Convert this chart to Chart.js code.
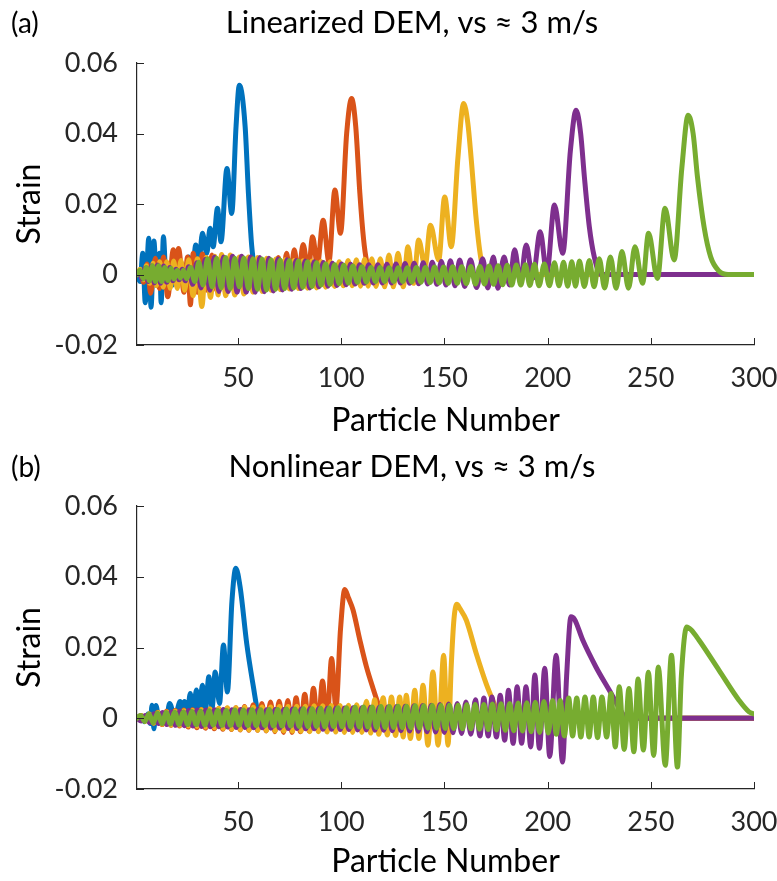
<!DOCTYPE html>
<html>
<head>
<meta charset="utf-8">
<script src="https://cdn.jsdelivr.net/npm/chart.js@4.4.1/dist/chart.umd.min.js"></script>
<style>
  body { margin: 0; background: #fff; }
  canvas { position: absolute; left: 0; }
</style>
</head>
<body>
<canvas id="chartA" width="777" height="440" style="top:0"></canvas>
<canvas id="chartB" width="777" height="441" style="top:440px"></canvas>
<script>
// tick labels
const xTicks = [50, 100, 150, 200, 250, 300];
const yTicks = [-0.02, 0, 0.02, 0.04, 0.06];

// (a) linearized DEM : [particle number, strain]
const blueA = [[1,0],[2.5,-0.002],[3.8,0.006],[5,-0.008],[6.7,0.0103],[7.8,-0.0093],[9.2,0.0095],[10.5,-0.003],[11.9,0.006],[12.7,-0.008],[13.8,0.0107],[15.3,-0.004],[16.8,0.003],[18.3,-0.003],[19.8,0.004],[21.3,-0.002],[22.9,0.003],[24.4,-0.001],[26,0.005],[27.6,-0.001],[29.5,0.0084],[31.1,0.004],[32.7,0.0117],[34.8,0.006],[36.4,0.0131],[37.9,0.0079],[40,0.0188],[41.7,0.0093],[44.6,0.0301],[46.9,0.0173],[49,0.042],[50.6,0.0537],[53.4,0.042],[55,0.023],[56.6,0.008],[58,0.002],[60,0],[300,0]];
const orangeA = [[1,0],[2.6,0.0013],[4.2,-0.0022],[5.9,0.003],[7.6,-0.0053],[9.9,0.0046],[11.9,-0.004],[13.8,0.005],[15.9,-0.0063],[18.6,0.007],[20,-0.002],[21.1,0.0074],[23.8,-0.005],[25.5,0.005],[26.9,-0.0086],[28.2,0.006],[30.3,-0.005],[32.7,0.0058],[35,-0.0045],[37.3,0.0055],[39.6,-0.0045],[41.9,0.005],[44.2,-0.004],[46.5,0.0048],[48.8,-0.004],[51.1,0.0045],[53.4,-0.0038],[55.7,0.0044],[58,-0.0035],[60.3,0.0044],[62.6,-0.0033],[64.9,0.0045],[67.2,-0.003],[69.5,0.0048],[71.5,-0.0025],[73.5,0.006],[75.3,-0.0015],[77.2,0.007],[79.2,-0.0005],[81.5,0.0085],[84,0.001],[86.1,0.0107],[88.4,0.0027],[91.2,0.0154],[94,0.0036],[96.9,0.024],[99.6,0.0117],[102.6,0.04],[105,0.0499],[107,0.042],[109,0.023],[110.8,0.01],[112.2,0.004],[114,0.001],[116,0],[300,0]];
const yellowA = [[1,0],[2.5,0.0015],[4,-0.0015],[5.6,0.0025],[7.2,-0.0025],[8.8,0.0032],[10.4,-0.0032],[12,0.0036],[13.7,-0.0036],[15.4,0.0036],[17.1,-0.0039],[18.8,0.0038],[20.5,-0.004],[22.3,0.004],[24.1,-0.0045],[26,0.0042],[28.2,-0.006],[30.3,0.0045],[32.4,-0.0091],[34.6,0.0048],[36.6,-0.0065],[38.7,0.0052],[40.3,-0.0058],[42,0.0057],[44,-0.006],[46.2,0.0055],[48.4,-0.0058],[50.6,0.005],[52.8,-0.0055],[55,0.005],[57.2,-0.005],[59.4,0.0048],[61.6,-0.0048],[63.8,0.0046],[66,-0.0045],[68.2,0.0044],[70.4,-0.0043],[72.6,0.0042],[74.8,-0.0041],[77,0.004],[79.2,-0.004],[81.4,0.0039],[83.6,-0.0039],[85.8,0.0038],[88,-0.0038],[90.2,0.0037],[92.4,-0.0036],[94.6,0.0036],[96.8,-0.0034],[99,0.0036],[101,-0.0032],[103.3,0.004],[105.3,-0.0032],[107.3,0.0042],[109.3,-0.0033],[111.3,0.0043],[113,-0.0033],[114.8,0.0045],[116.8,-0.0034],[118.9,0.0045],[121,-0.0035],[123.1,0.0055],[125.2,-0.0035],[127.5,0.006],[130,-0.0035],[132.3,0.0079],[135,-0.0025],[137.5,0.0098],[140.6,0.0022],[143.2,0.014],[147.2,0.0041],[150.1,0.022],[153.3,0.0079],[156.5,0.033],[159.3,0.0485],[161.3,0.043],[163,0.0325],[165.4,0.0155],[167.8,0.004],[170.5,0],[300,0]];
const purpleA = [[1,0],[2,0.0008],[3.4,-0.0013],[4.9,0.0018],[6.4,-0.002],[7.9,0.0024],[9.4,-0.0024],[10.9,0.0027],[12.4,-0.0025],[13.9,0.0024],[15.4,-0.0022],[16.9,0.002],[18.4,-0.0018],[19.9,0.0015],[21.4,-0.0015],[22.9,0.0015],[24.4,-0.0018],[26,0.0022],[28,-0.0028],[30,0.0033],[32,-0.0038],[34.1,0.0043],[36.3,-0.0045],[38.5,0.005],[40.7,-0.0048],[42.9,0.005],[45.1,-0.0048],[47.3,0.0052],[49.5,-0.005],[51.7,0.0052],[53.9,-0.005],[56.1,0.005],[58.3,-0.005],[60.5,0.0048],[62.7,-0.0049],[64.9,0.0046],[67.1,-0.0047],[69.3,0.0044],[71.5,-0.0044],[73.7,0.0042],[75.9,-0.0042],[78.1,0.004],[80.3,-0.004],[82.5,0.0038],[84.7,-0.0038],[86.9,0.0036],[89.1,-0.0035],[91.3,0.0034],[93.5,-0.0033],[95.7,0.0032],[97.9,-0.0031],[100.1,0.003],[102.3,-0.0029],[104.5,0.0029],[106.7,-0.0027],[108.9,0.0028],[111.1,-0.0025],[113.3,0.0028],[115.5,-0.0024],[117.7,0.0028],[119.9,-0.0024],[122.1,0.0029],[124.3,-0.0024],[126.5,0.003],[128.7,-0.0024],[130.9,0.0031],[133.1,-0.0025],[135.3,0.0032],[137.5,-0.0026],[139.7,0.0033],[141.9,-0.0027],[144.1,0.0035],[146.3,-0.0028],[148.5,0.0037],[150.7,-0.003],[152.9,0.0039],[155.1,-0.0032],[157.4,0.0041],[159.8,-0.0034],[162.6,0.0042],[165.6,-0.0037],[168.5,0.0045],[171,-0.0038],[173.7,0.005],[175.9,-0.0039],[178.9,0.005],[181.5,-0.003],[184,0.007],[186.8,-0.002],[189.6,0.0084],[192.8,-0.001],[196.4,0.0121],[199.6,0.0004],[203.3,0.0197],[207.3,0.006],[211,0.035],[213.8,0.0466],[216,0.04],[217.8,0.0277],[220.2,0.0135],[222.6,0.005],[225.8,0],[300,0]];
const greenA = [[1,0],[2.5,0.0012],[4,-0.0012],[5.5,0.002],[7,-0.0018],[8.5,0.0025],[10,-0.002],[11.5,0.0025],[13,-0.002],[14.5,0.002],[16,-0.0017],[17.5,0.0017],[19,-0.0013],[20.5,0.0012],[22,-0.001],[23.5,0.0012],[25,-0.0012],[27,0.002],[29,-0.002],[31,0.0035],[33,-0.003],[35.2,0.0045],[37.4,-0.0035],[39.6,0.0046],[41.8,-0.0038],[44,0.0048],[46.2,-0.004],[48.4,0.0046],[50.6,-0.0035],[52.8,0.0047],[55,-0.004],[57.2,0.0045],[59.4,-0.0042],[61.6,0.0044],[63.8,-0.0044],[66,0.0042],[68.2,-0.0042],[70.4,0.0041],[72.6,-0.004],[74.8,0.004],[77,-0.0038],[79.2,0.0038],[81.4,-0.0036],[83.6,0.0036],[85.8,-0.0034],[88,0.0033],[90.2,-0.003],[92.4,0.003],[94.6,-0.0028],[96.8,0.0028],[99,-0.0026],[101.2,0.0026],[103.4,-0.0024],[105.6,0.0024],[107.8,-0.0022],[110,0.0022],[112.2,-0.0021],[114.4,0.002],[116.6,-0.002],[118.8,0.002],[121,-0.002],[123.2,0.0019],[125.4,-0.002],[127.6,0.0019],[129.8,-0.002],[132,0.0019],[134.2,-0.0021],[136.4,0.002],[138.6,-0.0022],[140.8,0.002],[143,-0.0023],[145.2,0.0021],[147.4,-0.0024],[149.6,0.0021],[151.8,-0.0025],[154,0.0022],[156.2,-0.0025],[158.4,0.0022],[160.6,-0.0026],[162.8,0.0023],[165,-0.0027],[167.2,0.0023],[169.4,-0.0027],[171.6,0.0024],[173.8,-0.0028],[176,0.0025],[178.2,-0.0029],[180.4,0.0026],[182.6,-0.003],[184.8,0.0027],[187,-0.003],[189.2,0.0028],[191.4,-0.0031],[193.6,0.0029],[195.8,-0.0032],[198.4,0.003],[200.8,-0.0032],[203.3,0.0033],[205.5,-0.0032],[207.7,0.0035],[209.7,-0.0033],[211.7,0.0036],[213.5,-0.0033],[215.4,0.0038],[217.8,-0.0034],[220.2,0.004],[222.5,-0.0035],[225,0.0045],[227.6,-0.0038],[230.4,0.005],[233.2,-0.0039],[236,0.0065],[239.2,-0.0039],[242.3,0.0079],[246,-0.0025],[248.9,0.0117],[253.2,-0.0011],[256.9,0.0188],[261.3,0.0041],[265,0.03],[268.1,0.0452],[270.5,0.04],[272.6,0.0277],[275.8,0.0135],[279,0.005],[283,0.001],[287.5,0],[300,0]];

// (b) nonlinear DEM : [particle number, strain]
const blueB = [[1,0],[2.8,0.0008],[4.6,-0.001],[6.3,0.0012],[7.4,-0.0015],[8.3,0.0037],[9.2,-0.003],[10.2,0.0036],[11.8,-0.0012],[13.4,0.0012],[15,-0.0012],[16.8,0.0042],[19.3,0.0002],[21.9,0.0047],[23,0.0012],[24,0.0047],[25.4,0.0008],[26.8,0.007],[28.3,0.0015],[29.8,0.008],[31.2,0.002],[32.7,0.0093],[34.2,0.0025],[35.8,0.0117],[37.4,0.003],[38.9,0.0131],[41,0.0042],[42.9,0.0207],[44.8,0.0074],[47,0.033],[48.9,0.0424],[51,0.037],[54.2,0.021],[57.4,0.0089],[59.8,0.001],[61,0],[300,0]];
const orangeB = [[1,0],[3,0.0008],[5,-0.0008],[7,0.0012],[9,-0.0014],[11.1,0.0017],[13.2,-0.0018],[15.3,0.002],[17.4,-0.002],[19.5,0.0022],[21.6,-0.0022],[23.7,0.0023],[25.8,-0.0025],[27.9,0.0024],[30,-0.0027],[32.1,0.0025],[34.2,-0.0028],[36.3,0.0026],[38.4,-0.003],[40.5,0.0027],[42.6,-0.0031],[44.7,0.0028],[46.8,-0.0032],[48.9,0.003],[51,-0.0033],[53.1,0.0033],[55.2,-0.0034],[57.3,0.0038],[59.4,-0.0034],[61.5,0.0042],[63.6,-0.0036],[65.7,0.0046],[67.8,-0.0038],[69.9,0.0048],[72,-0.004],[74.1,0.005],[76.1,-0.004],[78.1,0.0058],[80.2,-0.0038],[82.3,0.0068],[84.4,-0.0036],[86.5,0.0085],[88.7,-0.003],[90.9,0.0105],[93.1,-0.0015],[95.3,0.0169],[97.4,0.003],[99.6,0.025],[101.7,0.0364],[103.5,0.034],[105.7,0.0306],[109,0.0221],[112.2,0.0145],[115.4,0.0084],[117.8,0.0042],[120,0.001],[122,0],[300,0]];
const yellowB = [[1,0],[3,0.0008],[5,-0.0009],[7,0.0012],[9.1,-0.0014],[11.2,0.0016],[13.3,-0.0017],[15.4,0.0018],[17.5,-0.0019],[19.6,0.002],[21.7,-0.002],[23.8,0.0021],[25.9,-0.0022],[28,0.0022],[30.1,-0.0023],[32.2,0.0024],[34.3,-0.0025],[36.4,0.0026],[38.5,-0.0027],[40.6,0.0028],[42.7,-0.0029],[44.8,0.003],[46.9,-0.0031],[49,0.003],[51.1,-0.0032],[53.2,0.0031],[55.3,-0.0033],[57.4,0.0031],[59.5,-0.0034],[61.6,0.0032],[63.7,-0.0035],[65.8,0.0032],[67.9,-0.0036],[70,0.0033],[72.1,-0.0036],[74.2,0.0033],[76.3,-0.0037],[78.4,0.0034],[80.5,-0.0037],[82.6,0.0034],[84.7,-0.0038],[86.8,0.0035],[88.9,-0.0038],[91,0.0035],[93.1,-0.0039],[95.2,0.0036],[97.3,-0.0039],[99.4,0.0036],[101.5,-0.004],[103.5,0.0037],[105.5,-0.004],[107.4,0.0038],[110,-0.004],[112.2,0.0048],[114.2,-0.0042],[116.2,0.0052],[118.2,-0.0045],[120.3,0.0058],[122.3,-0.0047],[124.3,0.006],[126.3,-0.0049],[128.3,0.006],[130,-0.0053],[131.5,0.0065],[133.5,-0.0057],[135.6,0.0079],[137.6,-0.0057],[139.6,0.0093],[142,-0.0076],[144.4,0.0131],[146.9,-0.0076],[149.6,0.0178],[151.7,-0.0076],[153.3,0.015],[154.6,0.028],[156,0.0322],[157.5,0.031],[160.6,0.0277],[165.4,0.0183],[170.2,0.0098],[173.4,0.0051],[176.5,0.001],[178,0],[300,0]];
const purpleB = [[1,0],[3,-0.0008],[5,0.0008],[7.1,-0.0012],[9.2,0.0013],[11.3,-0.0015],[13.4,0.0016],[15.5,-0.0018],[17.6,0.0018],[19.7,-0.002],[21.8,0.002],[23.9,-0.0021],[26,0.0022],[28.1,-0.0022],[30.2,0.0023],[32.3,-0.0023],[34.4,0.0023],[36.5,-0.0024],[38.6,0.0024],[40.7,-0.0024],[42.8,0.0025],[44.9,-0.0025],[47,0.0024],[49.1,-0.0026],[51.2,0.0025],[53.3,-0.0026],[55.4,0.0024],[57.5,-0.0027],[59.6,0.0025],[61.7,-0.0027],[63.8,0.0024],[65.9,-0.0028],[68,0.0025],[70.1,-0.0028],[72.2,0.0025],[74.3,-0.0029],[76.4,0.0026],[78.5,-0.0029],[80.6,0.0026],[82.7,-0.003],[84.8,0.0027],[86.9,-0.003],[89,0.0027],[91.1,-0.0031],[93.2,0.0028],[95.3,-0.0031],[97.4,0.0028],[99.5,-0.0032],[101.6,0.0029],[103.7,-0.0032],[105.8,0.003],[107.9,-0.0033],[110,0.003],[112.1,-0.0033],[114.2,0.0031],[116.3,-0.0034],[118.4,0.0031],[120.5,-0.0034],[122.6,0.0032],[124.7,-0.0035],[126.8,0.0033],[128.9,-0.0035],[131,0.0034],[133.1,-0.0036],[135.2,0.0035],[137.3,-0.0037],[139.4,0.0036],[141.5,-0.0038],[143.6,0.0037],[145.7,-0.0039],[147.8,0.0039],[149.9,-0.004],[152,0.004],[154.1,-0.0041],[156.2,0.0042],[158.3,-0.0043],[160.4,0.0046],[162.8,-0.0045],[165,0.0052],[167.2,-0.005],[169.1,0.0057],[171.2,-0.005],[173,0.006],[175.2,-0.0053],[177,0.0065],[179.2,-0.0062],[181,0.0079],[183.3,-0.0071],[185.2,0.0089],[187.4,-0.0071],[189.5,0.0089],[191.8,-0.0081],[193.8,0.0122],[196,-0.0085],[198.6,0.0141],[201,-0.0108],[204.1,0.0178],[207.2,-0.0124],[209.2,0.012],[211.3,0.0287],[213,0.028],[217,0.0221],[223.4,0.0145],[229.9,0.0079],[236.3,0.0013],[238,0],[300,0]];
const greenB = [[1,0],[2.7,0.0008],[4.8,-0.0009],[6.8,0.0012],[8.9,-0.0013],[11,0.0015],[13.1,-0.0015],[15.2,0.0016],[17.2,-0.0016],[19.3,0.0017],[21.4,-0.0017],[23.5,0.0018],[25.6,-0.0018],[27.6,0.0019],[29.7,-0.0018],[31.8,0.002],[33.9,-0.0019],[36,0.0021],[38,-0.0019],[40.1,0.0022],[42.2,-0.002],[44.3,0.0022],[46.4,-0.002],[48.4,0.0023],[50.5,-0.002],[52.6,0.0023],[54.7,-0.0021],[56.8,0.0024],[58.8,-0.0021],[60.9,0.0024],[63,-0.0021],[65.1,0.0025],[67.2,-0.0022],[69.2,0.0025],[71.3,-0.0022],[73.4,0.0026],[75.5,-0.0022],[77.6,0.0026],[79.6,-0.0023],[81.7,0.0027],[83.8,-0.0023],[85.9,0.0027],[88,-0.0023],[90,0.0028],[92.1,-0.0024],[94.2,0.0029],[96.3,-0.0024],[98.4,0.003],[100.4,-0.0024],[102.5,0.003],[104.6,-0.0025],[106.7,0.0031],[108.8,-0.0025],[110.8,0.0032],[112.9,-0.0025],[115,0.0032],[117.1,-0.0026],[119.2,0.0033],[121.2,-0.0026],[123.3,0.0033],[125.4,-0.0026],[127.5,0.0034],[129.6,-0.0027],[131.6,0.0034],[133.7,-0.0027],[135.8,0.0035],[137.9,-0.0027],[140,0.0035],[142,-0.0028],[144.1,0.0036],[146.2,-0.0028],[148.3,0.0036],[150.4,-0.0029],[152.4,0.0037],[154.5,-0.0029],[156.6,0.0037],[158.7,-0.003],[160.8,0.0038],[162.8,-0.003],[164.9,0.0039],[167,-0.0031],[169.1,0.0039],[171.2,-0.0032],[173.2,0.004],[175.3,-0.0033],[177.4,0.0041],[179.5,-0.0034],[181.6,0.0042],[183.6,-0.0035],[185.7,0.0043],[187.8,-0.0036],[189.9,0.0044],[192,-0.0038],[194,0.0045],[196.1,-0.004],[198.2,0.0047],[200.3,-0.0042],[202.4,0.005],[204.2,-0.0045],[206.1,0.005],[208.1,-0.005],[210.2,0.0057],[212.1,-0.005],[214.1,0.0057],[216.1,-0.0053],[218.1,0.006],[220.1,-0.0053],[222.1,0.006],[224.2,-0.0055],[226.3,0.006],[228.6,-0.0053],[230.7,0.007],[232.8,-0.0081],[234.7,0.0089],[237.1,-0.0088],[239.4,0.0084],[241.8,-0.0095],[243.8,0.0111],[246.4,-0.009],[248.8,0.013],[251.4,-0.0105],[253.6,0.0145],[257,-0.0133],[260,0.0178],[262.9,-0.0138],[264.8,0.012],[267.4,0.0258],[269.5,0.025],[273.3,0.0221],[283,0.0136],[292.7,0.0051],[297.6,0.0018],[300,0.0012]];

const colors = ['#0072BD', '#D95319', '#EDB120', '#7E2F8E', '#77AC30'];
const axisColor = '#262626';
const fontFamily = 'Lato, "Open Sans", sans-serif';

// panel letter, title and inward tick marks (MATLAB style)
const panelDecor = {
    id: 'panelDecor',
    afterDraw(chart, args, opts) {
        const ctx = chart.ctx;
        const area = chart.chartArea;
        ctx.save();
        ctx.fillStyle = '#000';
        ctx.textBaseline = 'alphabetic';
        ctx.textAlign = 'left';
        ctx.font = `28px ${fontFamily}`;
        ctx.fillText(opts.letter, 11, opts.baseline);
        ctx.textAlign = 'center';
        ctx.font = `31px ${fontFamily}`;
        ctx.fillText(opts.title, 412, opts.baseline);

        ctx.strokeStyle = axisColor;
        ctx.lineWidth = 1;
        ctx.beginPath();
        xTicks.forEach(v => {
            const px = Math.round(chart.scales.x.getPixelForValue(v)) + 0.5;
            ctx.moveTo(px, area.bottom);
            ctx.lineTo(px, area.bottom - 7);
        });
        yTicks.forEach(v => {
            const py = Math.round(chart.scales.y.getPixelForValue(v)) + 0.5;
            ctx.moveTo(area.left, py);
            ctx.lineTo(area.left + 7, py);
        });
        ctx.stroke();
        ctx.restore();
    }
};

const drawPanel = (canvasId, letter, title, series, top, xBox, baseline) => {
    new Chart(document.getElementById(canvasId), {
        type: 'line',
        data: {
            datasets: series.map((s, i) => ({
                data: s.map(([x, y]) => ({x, y})),
                borderColor: colors[i],
                order: series.length - i,
                borderWidth: 5,
                borderJoinStyle: 'round',
                borderCapStyle: 'round',
                cubicInterpolationMode: 'monotone',
                pointRadius: 0
            }))
        },
        options: {
            responsive: false,
            animation: false,
            devicePixelRatio: 1,
            layout: {padding: {top: top, right: 23, left: 0, bottom: 0}},
            plugins: {
                legend: {display: false},
                tooltip: {enabled: false},
                panelDecor: {letter, title, baseline}
            },
            scales: {
                x: {
                    type: 'linear',
                    min: 1,
                    max: 300,
                    afterBuildTicks: s => { s.ticks = xTicks.map(v => ({value: v})); },
                    afterFit: s => { s.height = xBox; s.paddingLeft = 0; s.paddingRight = 0; },
                    grid: {display: false},
                    border: {display: true, color: axisColor, width: 1.2},
                    ticks: {
                        color: axisColor,
                        font: {family: fontFamily, size: 27},
                        padding: 9,
                        maxRotation: 0,
                        autoSkip: false
                    },
                    title: {
                        display: true,
                        text: 'Particle Number',
                        color: '#000',
                        font: {family: fontFamily, size: 32},
                        padding: {top: 0, bottom: 0}
                    }
                },
                y: {
                    min: -0.02,
                    max: 0.06,
                    afterBuildTicks: s => { s.ticks = yTicks.map(v => ({value: v})); },
                    afterFit: s => { s.width = 137; s.paddingTop = 0; s.paddingBottom = 0; },
                    grid: {display: false},
                    border: {display: true, color: axisColor, width: 1.2},
                    ticks: {
                        color: axisColor,
                        font: {family: fontFamily, size: 27},
                        padding: 11,
                        callback: v => v === 0 ? '0' : v.toFixed(2)
                    },
                    title: {
                        display: true,
                        text: 'Strain',
                        color: '#000',
                        font: {family: fontFamily, size: 32},
                        padding: {top: 10, bottom: 0}
                    }
                }
            }
        },
        plugins: [panelDecor]
    });
};

drawPanel('chartA', '(a)', 'Linearized DEM, vs ≈ 3 m/s', [blueA, orangeA, yellowA, purpleA, greenA], 63, 95, 33);
drawPanel('chartB', '(b)', 'Nonlinear DEM, vs ≈ 3 m/s', [blueB, orangeB, yellowB, purpleB, greenB], 66, 92, 37);
</script>
</body>
</html>
